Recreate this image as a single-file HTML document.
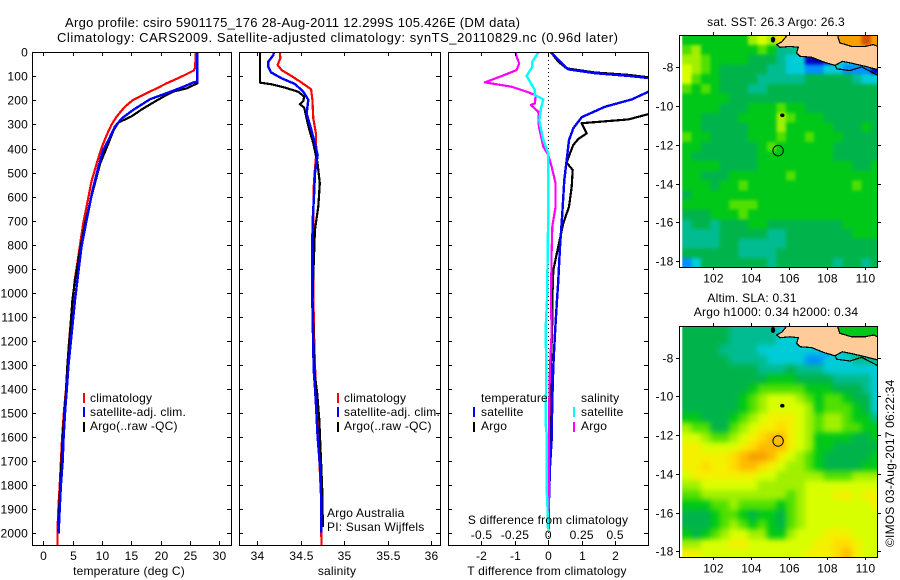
<!DOCTYPE html>
<html>
<head>
<meta charset="utf-8">
<title>Argo profile</title>
<style>
html,body{margin:0;padding:0;background:#fff;width:900px;height:580px;overflow:hidden}
svg{display:block}
text{font-family:"Liberation Sans",sans-serif;font-size:12px;fill:#000;letter-spacing:.2px}
text.main-title{font-size:13px;letter-spacing:0}
</style>
</head>
<body>
<svg id="fig" xmlns="http://www.w3.org/2000/svg" width="900" height="580" viewBox="0 0 900 580">
<defs>
<clipPath id="clip-temp"><rect x="32" y="52" width="199" height="493"/></clipPath>
<clipPath id="clip-sal"><rect x="239" y="52" width="201" height="493"/></clipPath>
<clipPath id="clip-diff"><rect x="448.500" y="52" width="200" height="493"/></clipPath>
<clipPath id="clip-sst"><rect x="679.500" y="35.500" width="198" height="232"/></clipPath>
<clipPath id="clip-sla"><rect x="679.500" y="326" width="198" height="231.500"/></clipPath>
<filter id="soft-sst" filterUnits="userSpaceOnUse" x="640" y="0" width="260" height="300" color-interpolation-filters="sRGB"><feGaussianBlur stdDeviation="1.6"/></filter>
<filter id="soft-sla" filterUnits="userSpaceOnUse" x="640" y="290" width="260" height="290" color-interpolation-filters="sRGB"><feGaussianBlur stdDeviation="2.8"/></filter>
</defs>
<text class="main-title" x="65" y="27" textLength="455" lengthAdjust="spacing">Argo profile: csiro 5901175_176 28-Aug-2011 12.299S 105.426E (DM data)</text>
<text class="main-title" x="57" y="42" textLength="561" lengthAdjust="spacing">Climatology: CARS2009. Satellite-adjusted climatology: synTS_20110829.nc (0.96d later)</text>

<g id="temp-panel"></g>
<g id="sal-panel"></g>
<g id="diff-panel"></g>
<g id="sst-map"></g>
<g id="sla-map"></g>

<text x="129" y="575" text-anchor="middle">temperature (deg C)</text>
<text x="337" y="575" text-anchor="middle">salinity</text>
<text x="547" y="575" text-anchor="middle">T difference from climatology</text>
<text x="548" y="524" text-anchor="middle">S difference from climatology</text>

<g>
<rect x="83" y="393" width="2" height="10" fill="#f00"/>
<rect x="83" y="407" width="2" height="10" fill="#00f"/>
<rect x="83" y="422" width="2" height="10" fill="#000"/>
<text x="90" y="402">climatology</text>
<text x="90" y="416">satellite-adj. clim.</text>
<text x="90" y="430">Argo(..raw -QC)</text>
</g>
<g>
<rect x="337" y="393" width="2" height="10" fill="#f00"/>
<rect x="337" y="407" width="2" height="10" fill="#00f"/>
<rect x="337" y="422" width="2" height="10" fill="#000"/>
<text x="344" y="402">climatology</text>
<text x="344" y="416">satellite-adj. clim.</text>
<text x="344" y="430">Argo(..raw -QC)</text>
</g>
<text x="327" y="517">Argo Australia</text>
<text x="327" y="531">PI: Susan Wijffels</text>
<g>
<text x="481" y="402">temperature</text>
<text x="581" y="402">salinity</text>
<rect x="473" y="407" width="2" height="10" fill="#00f"/>
<rect x="473" y="422" width="2" height="10" fill="#000"/>
<rect x="573" y="407" width="2" height="10" fill="#0ff"/>
<rect x="573" y="422" width="2" height="10" fill="#f0f"/>
<text x="481" y="416">satellite</text>
<text x="481" y="430">Argo</text>
<text x="581" y="416">satellite</text>
<text x="581" y="430">Argo</text>
</g>

<text x="776" y="26" text-anchor="middle">sat. SST: 26.3 Argo: 26.3</text>
<text x="752" y="302" text-anchor="middle">Altim. SLA: 0.31</text>
<text x="776" y="316" text-anchor="middle">Argo h1000: 0.34 h2000: 0.34</text>
<text transform="translate(894,547) rotate(-90)">©IMOS 03-Aug-2017 06:22:34</text>
</svg>

<script>
// ---- profile panels ----
const depthTicks = [0,100,200,300,400,500,600,700,800,900,1000,1100,1200,1300,1400,1500,1600,1700,1800,1900,2000];
const tempTicks = [0,5,10,15,20,25,30];
const salTicks = [34,34.5,35,35.5,36];
const salTickLabels = ['34','34.5','35','35.5','36'];
const tDiffTicks = [-2,-1,0,1,2];
const tDiffTickLabels = ['-2','-1','0','1','2'];
const sDiffTicks = [-0.5,-0.25,0,0.25,0.5];
const sDiffTickLabels = ['-0.5','-0.25','0','0.25','0.5'];

const climTempDepth = [0,66,76,104,129,150,177,198,226,267,302,344,399,462,538,614,711,801,891,947,1100,1200,1300,1400,1500,1600,1700,1800,1900,2000,2050];
const climTemp = [26,25.85,25.6,23.3,21,19.3,17,15.3,13.9,12.5,11.6,10.8,9.9,9.1,8.2,7.6,6.8,6.25,5.7,5.35,4.75,4.4,4.1,3.86,3.5,3.2,3,2.8,2.55,2.4,2.4];
const satTempDepth = [0,122,126,146,170,195,240,274,309,365,406,475,572,683,808,919,1030,1150,1300,1400,1500,1600,1700,1800,1900,2000];
const satTemp = [26.25,26.25,25.5,23.6,21,18.2,15.3,13.4,12.2,11.1,10.2,9.4,8.4,7.5,6.5,5.95,5.4,4.9,4.3,4,3.7,3.45,3.3,3,2.8,2.6];
const argoTempDepth = [0,129,150,163,184,212,237,267,292,323,378,462,600,711,822,947,1030,1150,1300,1400,1500,1600,1700,1800,1900,1990];
const argoTemp = [26.25,26.25,24.4,22.2,20.5,18.5,16.8,15,12.8,12,11.1,9.7,8.2,7.1,6.25,5.4,4.95,4.6,4.1,3.9,3.6,3.3,3.1,2.9,2.7,2.55];

const climSalDepth = [0,25,53,74,99,126,154,198,275,337,420,482,559,670,800,1000,1200,1362,1459,1598,1737,1875,2000,2050];
const climSal = [34.26,34.265,34.234,34.28,34.395,34.51,34.62,34.635,34.645,34.675,34.68,34.665,34.65,34.645,34.65,34.645,34.655,34.67,34.675,34.7,34.72,34.737,34.737,34.74];
const satSalDepth = [0,11,39,60,83,108,132,164,198,254,316,378,427,503,572,683,780,1030,1321,1390,1459,1598,1737,1875,1996];
const satSal = [34.19,34.185,34.127,34.127,34.157,34.28,34.434,34.53,34.587,34.568,34.618,34.664,34.695,34.664,34.657,34.64,34.634,34.634,34.65,34.664,34.675,34.695,34.726,34.737,34.737];
const argoSalDepth = [0,126,133,147,164,184,203,216,230,275,316,378,462,545,642,739,850,919,1030,1321,1418,1529,1668,1834,1973];
const argoSal = [34.03,34.03,34.165,34.32,34.47,34.54,34.53,34.49,34.54,34.568,34.595,34.645,34.695,34.72,34.703,34.664,34.653,34.645,34.637,34.657,34.69,34.714,34.73,34.75,34.755];

const satTDiffDepth = [0,32,71,87,98,107,120,140,164,196,226,270,316,365,448,531,670,808,947,1030,1168,1307,1446,1612,1722,1861,1985];
const satTDiff = [0.08,0.3,0.6,1.4,2.4,3,3.95,3.9,3,2.5,1.7,1,0.75,0.62,0.55,0.48,0.42,0.35,0.3,0.26,0.2,0.15,0.12,0.1,0.05,0.02,0];
const argoTDiffDepth = [0,39,67,84,94,104,130,190,257,279,288,295,337,360,385,420,459,489,559,642,711,808,905,1030,1113,1307,1446,1584,1722,1861,1975];
const argoTDiff = [0.08,0.3,0.55,1.4,2.4,3,5,5,3,2.4,1.6,1,1.15,0.9,0.75,0.65,0.55,0.73,0.7,0.62,0.45,0.3,0.15,0.12,0.12,0.08,0.1,0.08,0.05,0.02,0.01];
const argoSDiffDepth = [0,18,46,74,99,125,143,164,178,212,219,247,309,392,427,475,545,642,725,836,1030,1168,1307,1446,1584,1722,1930,1985];
const argoSDiff = [-0.245,-0.2375,-0.2175,-0.2375,-0.35,-0.475,-0.275,-0.1625,-0.095,-0.1,-0.13,-0.075,-0.07,-0.0375,0,0.025,0.055,0.055,0.03,0.025,0.02,0.025,0.0125,0.0075,0.005,0.005,0.0025,0.005];
const satSDiffDepth = [0,39,60,99,122,157,178,196,233,282,365,420,642,864,1030,1154,1307,1542,1584,1820,1861,1985];
const satSDiff = [-0.075,-0.12,-0.12,-0.1625,-0.1375,-0.1,-0.1,-0.0375,-0.055,-0.0675,-0.0375,0,0,-0.005,-0.01,-0.02,-0.015,-0.02,-0.0125,-0.0125,-0.0075,-0.0025];

// ---- map grids: colour level per 0.5 degree cell, north to south, west to east ----
const mapLonTicks = [102,104,106,108,110];
const mapLatTicks = [-8,-10,-12,-14,-16,-18];
const sstLevels = [
[6,6,6,6,6,6,6,8,9,8,11,11,13,13,13,13,13,13,13,14,13],
[7,8,6,6,6,6,6,6,7,6,4,4,4,3,3,3,13,13,13,13,13],
[8,8,7,6,6,6,6,5,5,5,4,3,3,0,0,1,3,3,3,3,3],
[9,8,7,6,5,5,5,5,5,4,4,3,3,2,2,3,3,2,2,2,0],
[9,7,6,6,5,5,5,5,4,4,4,4,4,5,5,5,5,5,4,3,3],
[7,6,7,6,5,5,5,4,4,5,5,5,5,5,5,5,5,5,5,5,5],
[6,6,6,6,6,5,5,5,5,5,5,5,5,5,5,5,5,5,5,5,5],
[6,6,6,6,5,5,5,6,6,6,7,6,6,5,5,5,5,5,5,5,5],
[6,6,5,5,5,5,6,6,6,6,8,7,6,6,6,5,5,5,5,5,5],
[6,6,5,5,5,5,5,6,6,6,8,6,6,6,6,6,5,5,5,6,5],
[7,6,6,5,5,5,5,6,6,6,7,6,6,7,6,6,6,5,5,5,5],
[6,6,5,5,5,5,5,5,6,7,6,6,6,6,6,6,5,5,5,5,5],
[6,5,5,5,5,5,5,5,6,6,6,6,6,6,6,6,5,5,5,5,5],
[6,6,6,6,5,5,5,5,6,6,6,6,6,6,6,6,6,6,5,5,6],
[6,6,5,5,5,6,6,6,6,6,6,7,6,6,6,6,6,6,6,6,6],
[6,6,6,5,6,6,7,6,6,6,6,6,6,6,6,6,6,6,7,6,6],
[5,6,6,6,6,6,6,6,6,6,6,6,6,6,6,6,6,6,6,6,6],
[6,6,6,6,6,7,7,7,6,6,6,6,6,6,6,6,6,6,6,6,6],
[5,5,5,6,6,6,7,6,6,6,6,6,6,6,6,6,6,6,6,6,6],
[4,5,5,4,5,5,5,6,6,5,5,5,5,5,5,5,5,6,6,6,6],
[4,4,4,4,5,5,5,5,5,4,4,5,5,5,5,5,5,5,6,6,6],
[4,4,4,4,5,5,4,4,4,4,4,5,5,5,5,5,5,5,5,5,5],
[5,5,5,5,5,5,4,4,4,4,5,5,5,5,5,5,5,5,5,5,5],
[2,3,5,5,5,5,5,5,5,4,5,5,5,5,5,5,4,5,5,4,5]
];
const slaLevels = [
[5,5,5,5,5,4,4,4,4,4,3,3,3,3,3,3,6,6,6,6,6],
[5,5,5,5,5,4,4,4,4,4,3,3,3,3,3,3,6,6,6,6,6],
[5,5,5,5,4,4,4,4,3,3,3,3,3,3,3,2,3,4,4,4,4],
[5,5,5,5,5,4,4,4,4,3,3,3,3,2,2,3,3,3,4,4,4],
[5,5,5,5,5,5,5,5,4,4,4,5,4,4,4,3,3,3,3,3,3],
[5,5,5,5,5,5,5,5,5,6,6,6,5,5,5,5,4,4,4,4,3],
[5,5,5,5,5,5,5,6,7,7,7,7,7,6,6,6,5,5,5,4,3],
[5,5,5,5,5,5,6,7,8,9,9,9,8,7,6,7,7,6,5,5,3],
[5,5,5,5,5,5,6,7,8,9,9,9,9,8,6,7,7,7,6,5,3],
[6,6,5,5,5,6,7,8,9,10,10,10,9,8,7,8,8,7,6,6,4],
[8,7,7,5,5,7,8,9,10,10,11,10,9,8,7,8,8,7,7,6,6],
[9,9,8,7,7,8,9,10,11,12,12,10,9,8,6,6,6,6,5,5,6],
[10,10,9,9,9,9,10,11,12,12,12,10,9,8,6,6,5,5,5,5,5],
[10,10,10,10,10,11,12,13,13,12,10,9,8,7,6,5,5,5,5,5,6],
[10,10,11,10,10,11,12,12,11,10,9,8,8,7,6,5,5,5,5,6,6],
[9,10,10,10,10,10,10,10,9,9,8,8,8,8,8,7,7,7,8,8,8],
[8,8,9,9,9,9,9,9,8,8,8,8,8,9,9,9,9,9,9,9,9],
[7,7,8,8,8,8,8,8,8,8,8,7,8,9,9,9,10,10,9,10,10],
[6,6,6,7,7,8,7,7,7,7,6,7,8,9,9,9,9,9,9,9,10],
[5,5,5,6,7,7,6,5,6,6,5,7,8,9,9,9,9,9,9,9,9],
[5,5,5,6,7,8,7,6,7,6,5,7,8,9,9,9,9,9,9,9,9],
[6,5,6,7,8,9,9,8,8,6,6,8,9,9,9,10,10,10,9,9,9],
[8,8,9,9,9,10,10,9,9,9,9,9,9,9,10,10,11,11,10,9,9],
[10,10,9,9,9,9,9,9,9,9,9,9,9,10,10,10,11,12,10,9,9]
];
const levelColors = ['#0000c0','#0030ff','#0090ff','#00ccd8','#00bc90','#00b44c','#00c818','#50e000','#a0f000','#d8ff00','#f4f000','#ffdc00','#ffbc00','#f8a000','#d85000'];
const coastLon = [105.9,105.62,105.35,105.53,106.06,106.5,106.41,106.59,107.2,107.82,108.44,108.83,109.23,110.03,110.7,110.7,110.47,110.03,109.32,108.7,108.58];
const coastLat = [-6.36,-6.69,-6.83,-6.97,-6.92,-6.97,-7.26,-7.43,-7.48,-7.72,-7.9,-7.69,-7.77,-7.95,-8.12,-6.92,-6.83,-6.92,-6.92,-6.74,-6.4];
const southCoastLon = [108.44,108.53,109.23,109.85,110.7];
const southCoastLat = [-7.9,-8.08,-8.17,-7.98,-8.41];
const floatLon = [105.426];
const floatLat = [-12.299];
const islandLon = [105.65,105.16];
const islandLat = [-10.48,-6.57];

const NS = 'http://www.w3.org/2000/svg';
function add(parent, tag, name, props, txt) {
  const el = document.createElementNS(NS, tag);
  
  
  for (const k in props) el.setAttribute(k, props[k]);
  if (txt !== undefined) el.textContent = txt;
  parent.appendChild(el);
  return el;
}
const depthY = d => 52.3 + d * 0.2405;
const tempX = t => 43.3 + t * 5.87;
const salX = s => 257.3 + (s - 34) * 86.8;
const tDiffX = t => 548.3 + t * 33.4;
const sDiffX = s => tDiffX(s * 4);

function panelFrame(g, left, right, xScale, xTicks, xLabels, yLabels, tickName) {
  const top = 52, bottom = 545;
  add(g, 'rect', 'plot-frame', {x: left + 0.5, y: top + 0.5, width: right - left, height: bottom - top, fill: 'none', stroke: '#000', 'stroke-width': 1, 'shape-rendering': 'crispEdges'});
  xTicks.forEach((v, i) => {
    const x = Math.round(xScale(v)) + 0.5;
    add(g, 'line', 'x-tick', {x1: x, x2: x, y1: top, y2: top + 4, stroke: '#000', 'shape-rendering': 'crispEdges'});
    add(g, 'line', 'x-tick', {x1: x, x2: x, y1: bottom, y2: bottom - 4, stroke: '#000', 'shape-rendering': 'crispEdges'});
    add(g, 'text', tickName, {x: x, y: 560, 'text-anchor': 'middle'}, xLabels[i]);
  });
  depthTicks.forEach(d => {
    const y = Math.round(depthY(d)) + 0.5;
    add(g, 'line', 'y-tick', {x1: left, x2: left + 4, y1: y, y2: y, stroke: '#000', 'shape-rendering': 'crispEdges'});
    add(g, 'line', 'y-tick', {x1: right, x2: right - 4, y1: y, y2: y, stroke: '#000', 'shape-rendering': 'crispEdges'});
    if (yLabels) add(g, 'text', 'depth-tick-label', {x: 28, y: y + 4, 'text-anchor': 'end'}, String(d));
  });
}
function profile(g, name, values, depths, xScale, color, clip, width) {
  const pts = values.map((v, i) => xScale(v).toFixed(1) + ',' + depthY(depths[i]).toFixed(1)).join(' ');
  add(g, 'polyline', name, {points: pts, fill: 'none', stroke: color, 'stroke-width': width, 'stroke-linejoin': 'round', 'clip-path': 'url(#' + clip + ')', 'shape-rendering': 'crispEdges'});
}

// temperature
const tp = document.getElementById('temp-panel');
profile(tp, 'climatology-temperature-line', climTemp, climTempDepth, tempX, '#f00', 'clip-temp', 2.2);
profile(tp, 'argo-temperature-line', argoTemp, argoTempDepth, tempX, '#000', 'clip-temp', 2.2);
profile(tp, 'satellite-temperature-line', satTemp, satTempDepth, tempX, '#00f', 'clip-temp', 2.4);
panelFrame(tp, 32, 231, tempX, tempTicks, tempTicks.map(String), true, 'temperature-tick-label');

// salinity
const sp = document.getElementById('sal-panel');
profile(sp, 'climatology-salinity-line', climSal, climSalDepth, salX, '#f00', 'clip-sal', 2.2);
profile(sp, 'argo-salinity-line', argoSal, argoSalDepth, salX, '#000', 'clip-sal', 2.2);
profile(sp, 'satellite-salinity-line', satSal, satSalDepth, salX, '#00f', 'clip-sal', 2.4);
panelFrame(sp, 239, 440, salX, salTicks, salTickLabels, false, 'salinity-tick-label');

// differences
const dp = document.getElementById('diff-panel');
add(dp, 'line', 'zero-difference-line', {x1: 548.5, x2: 548.5, y1: 52, y2: 545, stroke: '#000', 'stroke-dasharray': '1 3', 'shape-rendering': 'crispEdges'});
profile(dp, 'argo-temperature-difference-line', argoTDiff, argoTDiffDepth, tDiffX, '#000', 'clip-diff', 2.2);
profile(dp, 'satellite-temperature-difference-line', satTDiff, satTDiffDepth, tDiffX, '#00f', 'clip-diff', 2.4);
profile(dp, 'argo-salinity-difference-line', argoSDiff, argoSDiffDepth, sDiffX, '#f0f', 'clip-diff', 2.2);
profile(dp, 'satellite-salinity-difference-line', satSDiff, satSDiffDepth, sDiffX, '#0ff', 'clip-diff', 2.4);
panelFrame(dp, 448, 648, tDiffX, tDiffTicks, tDiffTickLabels, false, 't-difference-tick-label');
sDiffTicks.forEach((v, i) => {
  add(dp, 'text', 's-difference-tick-label', {x: sDiffX(v), y: 539, 'text-anchor': 'middle'}, sDiffTickLabels[i]);
});

// maps
const lonX = lon => 713.3 + (lon - 102) * 18.9;
function drawMap(g, levels, latTop, clip, filterId, frameTop, frameBottom, cellName) {
  const latY = lat => latTop - (lat + 8) * 19.37;
  const clipGroup = add(g, 'g', 'map-clip-area', {'clip-path': 'url(#' + clip + ')'});
  const cells = add(clipGroup, 'g', 'map-cells', {filter: 'url(#' + filterId + ')'});
  const pad = 14;
  levels.forEach((row, r) => {
    row.forEach((lev, c) => {
      const lon = 100.34 + c * 0.5, lat = -6.35 - r * 0.5;
      let x = lonX(lon), y = latY(lat), w = 9.95, h = 10.2;
      if (c === 0) { x -= pad; w += pad; }
      if (c === row.length - 1) { w += pad; }
      if (r === 0) { y -= pad; h += pad; }
      if (r === levels.length - 1) { h += pad; }
      add(cells, 'rect', cellName, {x: x.toFixed(1), y: y.toFixed(1), width: w, height: h, fill: levelColors[lev], 'shape-rendering': 'crispEdges'});
    });
  });
  add(clipGroup, 'rect', 'no-data-strip', {x: 679, y: frameTop, width: 3.3, height: frameBottom - frameTop + 1, fill: '#fff'});
  const pts = coastLon.map((lon, i) => lonX(lon).toFixed(1) + ',' + latY(coastLat[i]).toFixed(1)).join(' ');
  add(clipGroup, 'polygon', 'java-land', {points: pts, fill: '#ffcc99', stroke: 'none'});
  const outline = coastLon.slice(0, 15).map((lon, i) => lonX(lon).toFixed(1) + ',' + latY(coastLat[i]).toFixed(1)).join(' ');
  add(clipGroup, 'polyline', 'java-south-coastline', {points: outline, fill: 'none', stroke: '#000', 'stroke-width': 1.2, 'shape-rendering': 'crispEdges'});
  const outline2 = coastLon.slice(15).map((lon, i) => lonX(lon).toFixed(1) + ',' + latY(coastLat[i + 15]).toFixed(1)).join(' ');
  add(clipGroup, 'polyline', 'java-north-coastline', {points: outline2, fill: 'none', stroke: '#000', 'stroke-width': 1.2, 'shape-rendering': 'crispEdges'});
  const south = southCoastLon.map((lon, i) => lonX(lon).toFixed(1) + ',' + latY(southCoastLat[i]).toFixed(1)).join(' ');
  add(clipGroup, 'polyline', 'offshore-coastline', {points: south, fill: 'none', stroke: '#000', 'stroke-width': 1.2, 'shape-rendering': 'crispEdges'});
  islandLon.forEach((lon, i) => {
    add(clipGroup, 'ellipse', 'island', {cx: lonX(lon).toFixed(1), cy: latY(islandLat[i]).toFixed(1), rx: 2.2, ry: i === 0 ? 1.8 : 3, fill: '#000'});
  });
  floatLon.forEach((lon, i) => {
    add(clipGroup, 'circle', 'float-position-marker', {cx: lonX(lon).toFixed(1), cy: latY(floatLat[i]).toFixed(1), r: 5.2, fill: 'none', stroke: '#000', 'stroke-width': 1});
  });
  add(g, 'rect', 'map-frame', {x: 679.5, y: frameTop + 0.5, width: 198, height: frameBottom - frameTop, fill: 'none', stroke: '#000', 'shape-rendering': 'crispEdges'});
  mapLonTicks.forEach(lon => {
    const x = Math.round(lonX(lon)) + 0.5;
    add(g, 'line', 'longitude-tick', {x1: x, x2: x, y1: frameTop, y2: frameTop - 3, stroke: '#000', 'shape-rendering': 'crispEdges'});
    add(g, 'line', 'longitude-tick', {x1: x, x2: x, y1: frameBottom, y2: frameBottom + 3, stroke: '#000', 'shape-rendering': 'crispEdges'});
    add(g, 'text', 'longitude-tick-label', {x: x, y: frameBottom + 15.500, 'text-anchor': 'middle'}, String(lon));
  });
  mapLatTicks.forEach(lat => {
    const y = Math.round(latY(lat)) + 0.5;
    add(g, 'line', 'latitude-tick', {x1: 679, x2: 676, y1: y, y2: y, stroke: '#000', 'shape-rendering': 'crispEdges'});
    add(g, 'line', 'latitude-tick', {x1: 878, x2: 881, y1: y, y2: y, stroke: '#000', 'shape-rendering': 'crispEdges'});
    add(g, 'text', 'latitude-tick-label', {x: 673.5, y: y + 4, 'text-anchor': 'end'}, String(lat));
  });
}
drawMap(document.getElementById('sst-map'), sstLevels, 67.3, 'clip-sst', 'soft-sst', 35, 267, 'sst-cell');
drawMap(document.getElementById('sla-map'), slaLevels, 357.7, 'clip-sla', 'soft-sla', 326, 557, 'sla-cell');
</script>
</body>
</html>
